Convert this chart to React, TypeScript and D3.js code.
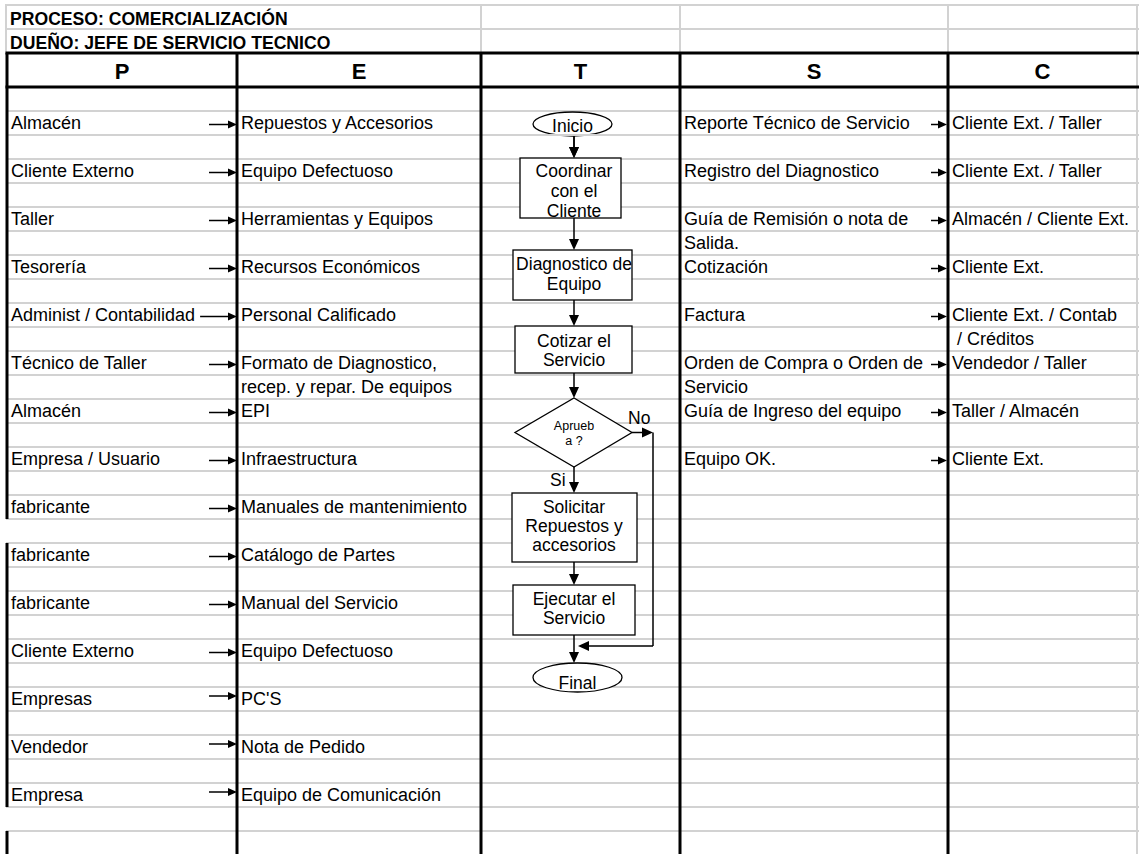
import React, { useEffect, useRef } from 'react';
import * as d3 from 'd3';

// Encabezado
const titulos = ['PROCESO: COMERCIALIZACIÓN', 'DUEÑO: JEFE DE SERVICIO TECNICO'];
const columnas = ['P', 'E', 'T', 'S', 'C'];

// Proveedores -> Entradas (una fila cada dos)
const proveedores = [
  'Almacén',
  'Cliente Externo',
  'Taller',
  'Tesorería',
  'Administ / Contabilidad',
  'Técnico de Taller',
  'Almacén',
  'Empresa / Usuario',
  'fabricante',
  'fabricante',
  'fabricante',
  'Cliente Externo',
  'Empresas',
  'Vendedor',
  'Empresa',
];
const entradas = [
  ['Repuestos y Accesorios'],
  ['Equipo Defectuoso'],
  ['Herramientas y Equipos'],
  ['Recursos Económicos'],
  ['Personal Calificado'],
  ['Formato de Diagnostico,', 'recep. y repar. De equipos'],
  ['EPI'],
  ['Infraestructura'],
  ['Manuales de mantenimiento'],
  ['Catálogo de Partes'],
  ['Manual del Servicio'],
  ['Equipo Defectuoso'],
  ["PC'S"],
  ['Nota de Pedido'],
  ['Equipo de Comunicación'],
];
// filas donde la flecha P->E esta mas arriba
const flechaAlta = [12, 13, 14];

// Salidas -> Clientes
const salidas = [
  ['Reporte Técnico de Servicio'],
  ['Registro del Diagnostico'],
  ['Guía de Remisión o nota de', 'Salida.'],
  ['Cotización'],
  ['Factura'],
  ['Orden de Compra o Orden de', 'Servicio'],
  ['Guía de Ingreso del equipo'],
  ['Equipo OK.'],
];
const clientes = [
  ['Cliente Ext. / Taller'],
  ['Cliente Ext. / Taller'],
  ['Almacén / Cliente Ext.'],
  ['Cliente Ext.'],
  ['Cliente Ext. / Contab', ' / Créditos'],
  ['Vendedor / Taller'],
  ['Taller / Almacén'],
  ['Cliente Ext.'],
];

// Diagrama de flujo (columna T)
const pasos = [
  { tipo: 'terminal', texto: ['Inicio'] },
  { tipo: 'proceso', texto: ['Coordinar', 'con el', 'Cliente'] },
  { tipo: 'proceso', texto: ['Diagnostico de', 'Equipo'] },
  { tipo: 'proceso', texto: ['Cotizar el', 'Servicio'] },
  { tipo: 'decision', texto: ['Aprueb', 'a ?'] },
  { tipo: 'proceso', texto: ['Solicitar', 'Repuestos y', 'accesorios'] },
  { tipo: 'proceso', texto: ['Ejecutar el', 'Servicio'] },
  { tipo: 'terminal', texto: ['Final'] },
];

const FONT = '"Liberation Sans", Arial, sans-serif';

const App = () => {
  const ref = useRef<SVGSVGElement | null>(null);

  useEffect(() => {
    if (!ref.current) return;
    const svg = d3.select(ref.current);
    svg.selectAll('*').remove();

    const W = 1139;
    const H = 854;
    const gridGray = '#d2d2d2';

    // filas: 24px cada una debajo del encabezado
    const y = d3.scaleLinear().domain([0, 1]).range([87, 111]);
    const nRows = 32;
    const colEdges = [7, 237, 481, 680, 948, 1137];

    svg.append('rect').attr('width', W).attr('height', H).attr('fill', '#fff');

    // lineas grises
    const g = svg.append('g').attr('stroke', gridGray).attr('stroke-width', 2);
    [5, 29].forEach((yy) =>
      g.append('line').attr('x1', 6).attr('x2', W).attr('y1', yy).attr('y2', yy)
    );
    d3.range(1, nRows).forEach((r) =>
      g.append('line').attr('x1', 6).attr('x2', W).attr('y1', y(r)).attr('y2', y(r))
    );
    [6, 481, 680, 948].forEach((xx) =>
      g.append('line').attr('x1', xx).attr('x2', xx).attr('y1', 4).attr('y2', 53)
    );
    g.append('line').attr('x1', 1137).attr('x2', 1137).attr('y1', 4).attr('y2', H);

    // titulos
    titulos.forEach((t, i) => {
      svg
        .append('text')
        .attr('x', 10)
        .attr('y', 25 + i * 24)
        .attr('font-family', FONT)
        .attr('font-weight', 'bold')
        .attr('font-size', 17.6)
        .attr('fill', '#000')
        .text(t);
    });

    // encabezado de columnas
    columnas.forEach((c, i) => {
      svg
        .append('text')
        .attr('x', (colEdges[i] + colEdges[i + 1]) / 2)
        .attr('y', 79)
        .attr('text-anchor', 'middle')
        .attr('font-family', FONT)
        .attr('font-weight', 'bold')
        .attr('font-size', 22)
        .text(c);
    });

    // lineas negras
    const b = svg.append('g').attr('stroke', '#000').attr('stroke-width', 3);
    [53, 87].forEach((yy) =>
      b.append('line').attr('x1', 5.5).attr('x2', W).attr('y1', yy).attr('y2', yy)
    );
    [237, 481, 680, 948].forEach((xx) =>
      b.append('line').attr('x1', xx).attr('x2', xx).attr('y1', 53).attr('y2', H)
    );
    // borde izquierdo con huecos
    [
      [53, y(18)],
      [y(19), y(30)],
      [y(31), H],
    ].forEach(([a, c]) =>
      b.append('line').attr('x1', 7).attr('x2', 7).attr('y1', a).attr('y2', c)
    );

    const textAt = (x: number, row: number, s: string, size = 18) =>
      svg
        .append('text')
        .attr('x', x)
        .attr('y', y(row) + 18)
        .attr('font-family', FONT)
        .attr('font-size', size)
        .attr('fill', '#000')
        .style('white-space', 'pre')
        .text(s);

    const arrow = (
      x1: number,
      y1: number,
      x2: number,
      y2: number,
      len = 8,
      half = 3.5,
      sw = 1.5
    ) => {
      const ang = Math.atan2(y2 - y1, x2 - x1);
      const bx = x2 - len * Math.cos(ang);
      const by = y2 - len * Math.sin(ang);
      svg
        .append('line')
        .attr('x1', x1)
        .attr('y1', y1)
        .attr('x2', bx)
        .attr('y2', by)
        .attr('stroke', '#000')
        .attr('stroke-width', sw);
      const px = -Math.sin(ang) * half;
      const py = Math.cos(ang) * half;
      svg
        .append('path')
        .attr('d', `M${x2},${y2}L${bx + px},${by + py}L${bx - px},${by - py}Z`)
        .attr('fill', '#000');
    };

    // P -> E
    proveedores.forEach((p, i) => {
      const row = 1 + 2 * i;
      const t = textAt(11, row, p);
      const end = 11 + (t.node() as SVGTextElement).getComputedTextLength();
      entradas[i].forEach((s, k) => textAt(241, row + k, s));
      const ay = y(row) + (flechaAlta.includes(i) ? 9 : 13.5);
      const start = end > 185 ? end + 5 : 209;
      arrow(start, ay, 237, ay, 9, 4);
    });

    // S -> C
    salidas.forEach((s, i) => {
      const row = 1 + 2 * i;
      let end = 0;
      s.forEach((line, k) => {
        const t = textAt(684, row + k, line);
        if (k === 0) end = 684 + (t.node() as SVGTextElement).getComputedTextLength();
      });
      clientes[i].forEach((c, k) => textAt(952, row + k, c));
      const ay = y(row) + 13.5;
      arrow(Math.max(931, Math.min(933, end + 5)), ay, 947, ay, 9, 4);
    });

    // diagrama de flujo
    const cx = 574;
    const layout = [
      { x0: 533, x1: 612, y0: 112, y1: 136, base: 131.5, lh: 20, fs: 17.5 },
      { x0: 520, x1: 621, y0: 158, y1: 218, base: 177, lh: 20, fs: 17.5 },
      { x0: 513, x1: 632, y0: 250, y1: 300, base: 270, lh: 20, fs: 17.5 },
      { x0: 515, x1: 632, y0: 326, y1: 373, base: 346.5, lh: 19.5, fs: 17.5 },
      { x0: 515, x1: 632, y0: 398, y1: 467, base: 430, lh: 14.5, fs: 12.5 },
      { x0: 512, x1: 637, y0: 493, y1: 562, base: 513, lh: 19, fs: 17.5 },
      { x0: 513, x1: 635, y0: 585, y1: 635, base: 605, lh: 19, fs: 17.5 },
      { x0: 533, x1: 622, y0: 663, y1: 692, base: 689, lh: 20, fs: 17.5 },
    ];

    const fg = svg.append('g');
    pasos.forEach((p, i) => {
      const L = layout[i];
      const mx = (L.x0 + L.x1) / 2;
      const my = (L.y0 + L.y1) / 2;
      if (p.tipo === 'terminal') {
        fg.append('ellipse')
          .attr('cx', mx)
          .attr('cy', my)
          .attr('rx', (L.x1 - L.x0) / 2)
          .attr('ry', (L.y1 - L.y0) / 2)
          .attr('fill', '#fff')
          .attr('stroke', '#000')
          .attr('stroke-width', 1.3);
      } else if (p.tipo === 'decision') {
        fg.append('path')
          .attr('d', `M${cx},${L.y0}L${L.x1},${my}L${cx},${L.y1}L${L.x0},${my}Z`)
          .attr('fill', '#fff')
          .attr('stroke', '#000')
          .attr('stroke-width', 1.3);
      } else {
        fg.append('rect')
          .attr('x', L.x0)
          .attr('y', L.y0)
          .attr('width', L.x1 - L.x0)
          .attr('height', L.y1 - L.y0)
          .attr('fill', '#fff')
          .attr('stroke', '#000')
          .attr('stroke-width', 1.3);
      }
      p.texto.forEach((s, k) => {
        fg.append('text')
          .attr('x', p.tipo === 'terminal' ? mx : cx)
          .attr('y', L.base + k * L.lh)
          .attr('text-anchor', 'middle')
          .attr('font-family', FONT)
          .attr('font-size', L.fs)
          .text(s);
      });
      if (i < pasos.length - 1) {
        arrow(cx, L.y1, cx, layout[i + 1].y0, 11, 5);
      }
    });

    // la linea de cuadricula pasa por encima de "Inicio"
    svg
      .append('line')
      .attr('x1', 520)
      .attr('x2', 625)
      .attr('y1', y(2))
      .attr('y2', y(2))
      .attr('stroke', gridGray)
      .attr('stroke-width', 2);
    arrow(cx, y(2) + 1, cx, layout[1].y0, 11, 5);

    // rama "No"
    const dec = layout[4];
    const dmy = (dec.y0 + dec.y1) / 2;
    const xr = 653;
    arrow(dec.x1, dmy, xr, dmy, 11, 5);
    const yBack = 646;
    svg
      .append('line')
      .attr('x1', xr)
      .attr('x2', xr)
      .attr('y1', dmy)
      .attr('y2', yBack)
      .attr('stroke', '#000')
      .attr('stroke-width', 1.5);
    arrow(xr, yBack, cx + 4, yBack, 11, 5);

    const label = (x: number, yy: number, s: string) =>
      svg
        .append('text')
        .attr('x', x)
        .attr('y', yy)
        .attr('font-family', FONT)
        .attr('font-size', 17.5)
        .text(s);
    label(628, 424, 'No');
    label(550, 485.5, 'Si');
  }, []);

  return (
    <svg
      ref={ref}
      width={1139}
      height={854}
      style={{ position: 'absolute', left: 0, top: 0, display: 'block' }}
    />
  );
};

export default App;
